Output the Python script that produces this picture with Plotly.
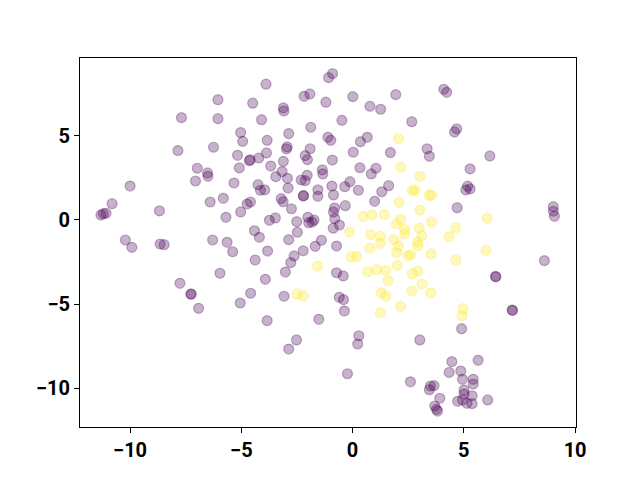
import plotly.graph_objects as go

purple_x = [-6.05, -7.69, -6.05, -4.49, -5.03, -4.94, -7.85, -6.25, -5.17, -4.64, -4.60, -5.09, -6.98, -6.52, -6.50,
            -7.06, -5.33, -10.0, -10.81, -11.20, -11.08, -11.31, -8.68, -6.40, -5.81, -5.69, -5.03, -4.74, -4.59,
            -10.21, -9.92, -8.65, -8.47, -6.29, -5.64, -5.39, -5.96, -7.76, -7.27, -7.25, -6.92, -5.05, -4.58,
            -0.90, -1.08, -3.89, -2.18, -1.92, -1.20, 0.01, 1.94, 0.78, 1.26, -3.11, -3.09, -4.09, -0.48, 2.66,
            -1.88, -2.87, -1.11, -0.98, -3.84, 0.66, 0.35, -2.94, -2.97, -1.91, -3.87, -4.22, -2.13, -2.03, -3.11,
            -0.91, 0.03, 1.70, -3.68, 0.33, 1.05, 0.84, -1.36, -1.34, -3.17, -3.45, -2.93, -2.04, -2.31, -2.13,
            -0.93, -0.12, -0.35, -4.25, -4.14, -3.95, -2.90, -1.56, -1.56, -2.22, -2.20, -0.86, 1.62, 1.31, 0.26,
            -3.21, -3.12, 0.99, -0.33, -2.75, -0.81, -0.86, -3.74, -3.47, -2.51, -2.01, -1.97, -1.73, -1.82, -0.80,
            -0.59, -0.87, -2.48, -4.41, -4.19, -2.87, -1.40, -1.68, -0.72, -3.82, -2.22, -2.63, -2.78, -4.38, -3.02,
            -0.72, -0.42, -3.92, -3.08, -0.60, -0.41, -0.37, -3.84, -1.52, -2.52, -2.87, 0.28, 0.23, -0.23, 2.60,
            4.10, 4.23, 4.68, 4.58, 3.35, 3.45, 6.17, 5.28, 5.17, 5.28, 5.09, 4.70, 9.02, 9.02, 9.07, 8.62,
            6.44, 6.42, 7.19, 7.17, 4.90, 3.02, 4.46, 5.64, 4.34, 4.86, 4.94, 5.42, 5.42, 3.50, 3.66, 3.45,
            5.01, 5.01, 3.92, 4.72, 4.94, 5.14, 5.37, 5.37, 6.07, 3.69, 3.77, 3.82]
purple_y = [7.16, 6.09, 6.03, 6.95, 5.20, 4.68, 4.13, 4.33, 3.85, 3.53, 3.58, 3.10, 3.08, 2.80, 2.60,
            2.32, 2.20, 2.02, 0.97, 0.375, 0.40, 0.30, 0.54, 1.07, 1.29, 0.16, 0.48, 0.95, 1.07,
            -1.19, -1.63, -1.43, -1.47, -1.19, -1.33, -1.89, -3.17, -3.77, -4.42, -4.40, -5.26, -4.94, -4.36,
            8.71, 8.47, 8.08, 7.36, 7.50, 7.01, 7.34, 7.46, 6.77, 6.59, 6.67, 6.49, 5.97, 5.93, 5.85,
            5.52, 5.14, 4.92, 4.74, 4.74, 4.92, 4.66, 4.35, 4.23, 4.24, 3.99, 3.69, 3.83, 3.59, 3.49,
            3.57, 4.03, 4.01, 3.21, 3.11, 3.08, 2.74, 2.98, 2.74, 2.88, 2.58, 2.48, 2.66, 2.38, 2.34,
            2.02, 2.28, 1.98, 2.10, 1.77, 1.79, 1.90, 1.80, 1.41, 1.43, 1.45, 1.49, 2.04, 1.68, 1.77,
            1.27, 1.09, 1.11, 0.85, 0.67, 0.71, 0.48, -0.02, 0.12, -0.10, 0.16, -0.16, 0.0, -0.12, 0.08,
            -0.30, -0.49, -0.73, -0.64, -1.03, -1.17, -1.21, -1.57, -1.55, -1.85, -1.83, -2.14, -2.54, -2.38, -3.10,
            -3.14, -3.33, -3.53, -4.54, -4.60, -4.74, -5.42, -5.99, -5.91, -7.14, -7.68, -6.89, -7.38, -9.15, -9.63,
            7.78, 7.60, 5.42, 5.24, 4.23, 3.79, 3.81, 3.04, 2.01, 1.85, 1.79, 0.73, 0.79, 0.52, 0.22, -2.42,
            -3.38, -3.36, -5.38, -5.36, -6.47, -7.14, -8.43, -8.35, -9.07, -8.99, -9.48, -9.48, -9.76, -9.88, -9.86, -10.10,
            -10.12, -10.36, -10.61, -10.79, -10.71, -10.91, -10.46, -10.93, -10.71, -11.07, -11.27, -11.37]

yellow_x = [2.07, 2.16, 2.69, 2.09, 0.48, 0.87, 1.43, 1.97, 2.15, 2.34, 2.34, -0.14, 0.81, 1.26, 1.86,
            3.03, 2.79, 3.44, 3.55, 6.05, 3.02, 3.55, 3.00, 3.11, 4.63, 4.34, 2.91, 0.78, 1.25,
            -0.06, 0.18, 0.68, 1.09, 1.49, 1.59, 1.29, 1.50, 1.25, 2.16, 2.06, 1.98, 2.49, 2.01, 2.69,
            2.66, 2.94, 2.61, 3.53, 4.64, 5.99, 2.94, 3.12, 3.51, 4.97, 4.91, -1.58, -2.49, -2.22]
yellow_y = [4.84, 3.14, 1.74, 1.05, 0.20, 0.30, 0.32, -0.24, 0.04, -0.55, -0.83, -0.71, -0.88, -0.97, -1.17,
            2.60, 1.79, 1.47, 1.47, 0.10, 0.58, -0.12, -0.48, -0.93, -0.46, -0.99, -1.33, -1.67, -1.39,
            -2.20, -2.18, -3.08, -2.96, -2.99, -3.61, -4.33, -4.54, -5.52, -5.14, -1.55, -1.95, -2.13, -2.70, -3.21,
            -4.23, -1.53, -2.08, -2.02, -2.40, -1.80, -3.04, -3.81, -4.35, -5.28, -5.70, -2.74, -4.40, -4.52]

x_ticks = [-10, -5, 0, 5, 10]
y_ticks = [-10, -5, 0, 5]

fig = go.Figure()
for xs, ys, col in [(purple_x, purple_y, "rgba(68,1,84,0.3)"), (yellow_x, yellow_y, "rgba(253,231,37,0.3)")]:
    fig.add_trace(go.Scatter(
        x=xs, y=ys, mode="markers",
        marker=dict(size=10, color=col, line=dict(color=col, width=1.2)),
        showlegend=False, hoverinfo="skip"))

axis_common = dict(showgrid=False, zeroline=False, showline=True, linecolor="black", linewidth=1,
                   mirror=True, ticks="outside", ticklen=5, tickwidth=1, tickcolor="black",
                   automargin=False,
                   tickfont=dict(family="Roboto", size=20, color="black", weight="bold"))
fig.update_xaxes(range=[-12.25, 10.04], tickvals=x_ticks, **axis_common)
fig.update_yaxes(range=[-12.32, 9.64], tickvals=y_ticks, **axis_common)
fig.update_layout(width=640, height=480, margin=dict(l=80, r=64, t=58, b=53),
                  plot_bgcolor="white", paper_bgcolor="white")
fig.write_html("out.html", config={"displayModeBar": False})

with open("out.html", encoding="utf-8") as f:
    html = f.read()
html = html.replace("<body>", '<body style="margin:0">', 1)
with open("out.html", "w", encoding="utf-8") as f:
    f.write(html)
